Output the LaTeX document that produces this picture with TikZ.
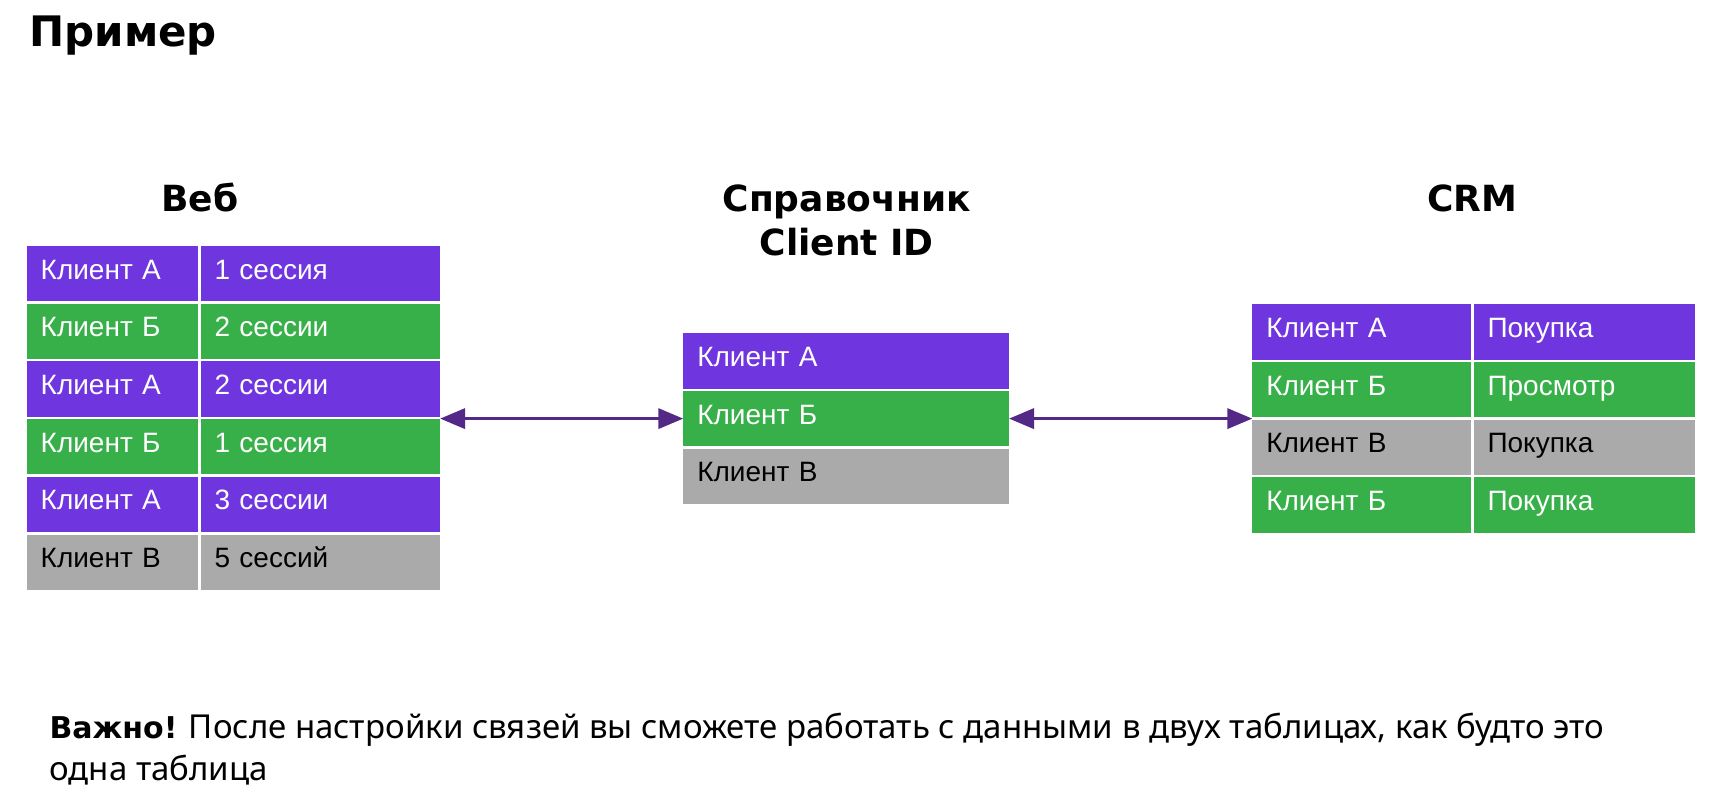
\documentclass[tikz,border=0pt]{standalone}
\usepackage{fontspec}
\setmainfont{Noto Sans}
\newfontfamily\cellfont{Liberation Sans}
\newfontfamily\headfont{DejaVu Sans}
\usetikzlibrary{positioning,arrows.meta}

\definecolor{clviolet}{HTML}{6F35DF}
\definecolor{clgreen}{HTML}{38B04A}
\definecolor{clgray}{HTML}{AAAAAA}
\definecolor{cllink}{HTML}{532887}

\begin{document}
\begin{tikzpicture}[x=1pt, y=1pt,
  cell/.style={rectangle, text width=#1, align=left, inner xsep=14pt, inner ysep=0pt,
    outer sep=0pt, minimum height=55.2pt, text height=20pt, text depth=9pt,
    font=\cellfont\fontsize{28}{30}\selectfont},
  rowa/.style={fill=clviolet, text=white},
  rowb/.style={fill=clgreen, text=white},
  rowv/.style={fill=clgray, text=black},
  header/.style={align=center, font=\headfont\bfseries\fontsize{36}{43.3}\selectfont},
  link/.style={{Triangle[length=25pt,width=20pt]}-{Triangle[length=25pt,width=20pt]},
    line width=3.5pt, draw=cllink}]

  \useasboundingbox[fill=white] (0,0) rectangle (1711,-804);

  \node[anchor=base west, font=\headfont\bfseries\fontsize{42}{46}\selectfont] (title) at (26,-46.7) {Пример};

  % Веб

  \node[header, anchor=base] (web) at (200,-211.7) {Веб};

  \node[cell=143.4pt, rowa, anchor=north west] (webid1) at (26.7,-246) {Клиент А};
  \node[cell=211.5pt, rowa, right=2.5pt of webid1] (webval1) {1 сессия};
  \node[cell=143.4pt, rowb, below=2.5pt of webid1] (webid2) {Клиент Б};
  \node[cell=211.5pt, rowb, right=2.5pt of webid2] (webval2) {2 сессии};
  \node[cell=143.4pt, rowa, below=2.5pt of webid2] (webid3) {Клиент А};
  \node[cell=211.5pt, rowa, right=2.5pt of webid3] (webval3) {2 сессии};
  \node[cell=143.4pt, rowb, below=2.5pt of webid3] (webid4) {Клиент Б};
  \node[cell=211.5pt, rowb, right=2.5pt of webid4] (webval4) {1 сессия};
  \node[cell=143.4pt, rowa, below=2.5pt of webid4] (webid5) {Клиент А};
  \node[cell=211.5pt, rowa, right=2.5pt of webid5] (webval5) {3 сессии};
  \node[cell=143.4pt, rowv, below=2.5pt of webid5] (webid6) {Клиент В};
  \node[cell=211.5pt, rowv, right=2.5pt of webid6] (webval6) {5 сессий};

  % Справочник Client ID

  \node[header, anchor=base] (ref) at (846.7,-255) {Справочник \\ Client ID};

  \node[cell=297.7pt, rowa, anchor=north west] (refid1) at (683.3,-333.3) {Клиент А};
  \node[cell=297.7pt, rowb, below=2.5pt of refid1] (refid2) {Клиент Б};
  \node[cell=297.7pt, rowv, below=2.5pt of refid2] (refid3) {Клиент В};

  % CRM

  \node[header, anchor=base] (crm) at (1472,-211.7) {CRM};

  \node[cell=190.7pt, rowa, anchor=north west] (crmid1) at (1252.3,-304.3) {Клиент А};
  \node[cell=193.5pt, rowa, right=2.5pt of crmid1] (crmval1) {Покупка};
  \node[cell=190.7pt, rowb, below=2.5pt of crmid1] (crmid2) {Клиент Б};
  \node[cell=193.5pt, rowb, right=2.5pt of crmid2] (crmval2) {Просмотр};
  \node[cell=190.7pt, rowv, below=2.5pt of crmid2] (crmid3) {Клиент В};
  \node[cell=193.5pt, rowv, right=2.5pt of crmid3] (crmval3) {Покупка};
  \node[cell=190.7pt, rowb, below=2.5pt of crmid3] (crmid4) {Клиент Б};
  \node[cell=193.5pt, rowb, right=2.5pt of crmid4] (crmval4) {Покупка};

  % links
  \draw[link] (refid2.west -| webval3.east) -- (refid2.west);
  \draw[link] (refid2.east) -- (refid2.east -| crmid1.west);

  % note
  \node[anchor=base west, align=left, font=\fontsize{33}{41.7}\selectfont] (note) at (46,-780)
    {{\headfont\bfseries\fontsize{30}{41.7}\selectfont Важно!} После настройки связей вы сможете работать с данными в двух таблицах, как будто это \\ одна таблица};

\end{tikzpicture}
\end{document}
